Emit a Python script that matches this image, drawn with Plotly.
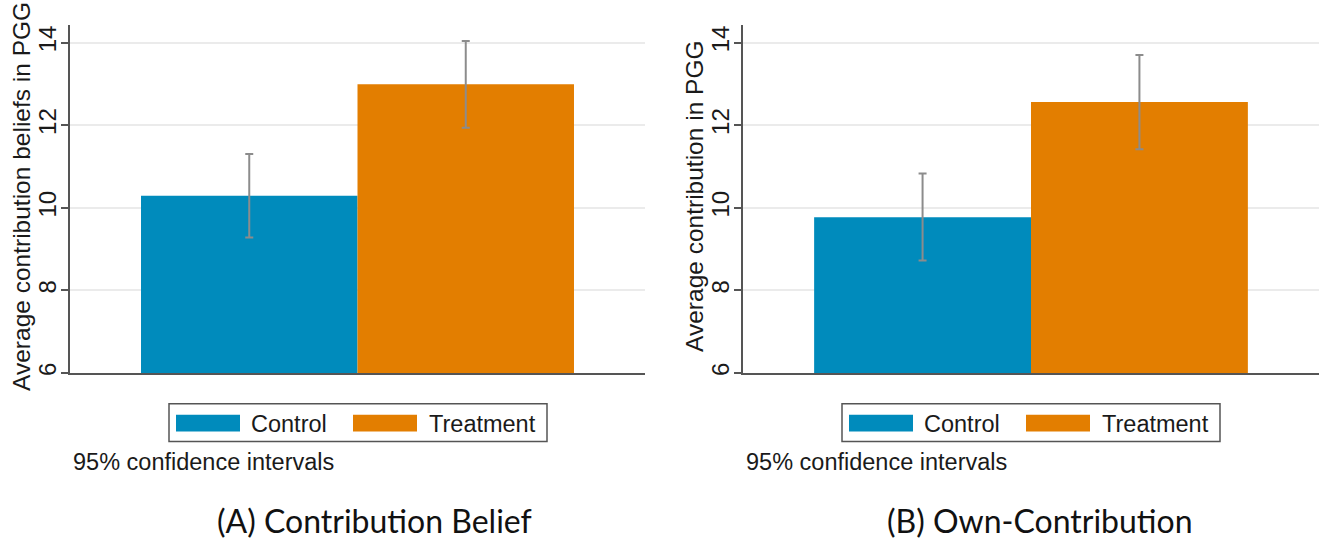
import plotly.graph_objects as go

W, H = 1324, 542

# ---- data -------------------------------------------------------------
groups = ["Control", "Treatment"]
colors = ["#008bbc", "#e37e00"]

belief_mean = [10.29, 12.99]
belief_lo = [9.28, 11.94]
belief_hi = [11.30, 14.04]

own_mean = [9.77, 12.56]
own_lo = [8.72, 11.42]
own_hi = [10.83, 13.70]

y_ticks = [6, 8, 10, 12, 14]
y_titles = ["Average contribution beliefs in PGG", "Average contribution in PGG"]
captions = ["(A) Contribution Belief", "(B) Own-Contribution"]
note_text = "95% confidence intervals"

panels = [
    dict(mean=belief_mean, lo=belief_lo, hi=belief_hi),
    dict(mean=own_mean, lo=own_lo, hi=own_hi),
]

# ---- layout helpers (pixel -> paper) ---------------------------------
def px(x):
    return x / W


def py(y):
    return 1 - y / H


AX_FONT = "Liberation Sans, Arial, sans-serif"
axis_left = [70, 743]
axis_right = [645, 1319]
plot_top, plot_bottom = 25, 375

fig = go.Figure()
shapes = []
annotations = []

for i, p in enumerate(panels):
    xa = "x" if i == 0 else "x2"
    ya = "y" if i == 0 else "y2"
    for j, g in enumerate(groups):
        fig.add_trace(go.Bar(
            x=[j + 1],
            y=[p["mean"][j]],
            width=1,
            base=0,
            marker=dict(color=colors[j], line=dict(width=0)),
            error_y=dict(
                type="data",
                symmetric=False,
                array=[p["hi"][j] - p["mean"][j]],
                arrayminus=[p["mean"][j] - p["lo"][j]],
                color="#8c8c8c",
                thickness=2,
                width=4,
            ),
            name=g,
            showlegend=False,
            xaxis=xa,
            yaxis=ya,
        ))

common_y = dict(
    range=[6, 14.43],
    tickvals=y_ticks,
    ticks="outside",
    ticklen=7,
    tickwidth=1.5,
    tickcolor="#555555",
    tickangle=-90,
    ticklabelstandoff=-4,
    tickfont=dict(family=AX_FONT, size=24, color="#1a1a1a"),
    showline=True,
    linecolor="#555555",
    linewidth=1.5,
    showgrid=True,
    gridcolor="#ebebeb",
    gridwidth=1.5,
    zeroline=False,
    domain=[py(plot_bottom), py(plot_top)],
)
common_x = dict(
    range=[0.172, 2.828],
    showticklabels=False,
    ticks="",
    showgrid=False,
    zeroline=False,
    showline=True,
    linecolor="#555555",
    linewidth=1.5,
)

fig.update_layout(
    xaxis=dict(common_x, domain=[px(axis_left[0]), px(axis_right[0])], anchor="y"),
    xaxis2=dict(common_x, domain=[px(axis_left[1]), px(axis_right[1])], anchor="y2"),
    yaxis=dict(common_y, anchor="x"),
    yaxis2=dict(common_y, anchor="x2"),
)

# ---- axis titles, legends, notes and captions -------------------------
title_font = dict(family=AX_FONT, size=24.5, color="#1a1a1a")
for i in range(2):
    dx = axis_left[i] - axis_left[0]
    annotations.append(dict(text=y_titles[i], xref="paper", yref="paper",
                            x=px(22 + dx), y=py(198), xanchor="center",
                            yanchor="middle", textangle=-90, showarrow=False,
                            font=title_font))
    # legend frame
    shapes.append(dict(type="rect", xref="paper", yref="paper",
                       x0=px(169 + dx), x1=px(547 + dx), y0=py(444), y1=py(406),
                       line=dict(color="#555555", width=1.5), fillcolor="white"))
    sw_x = [176, 353]
    txt_x = [249, 427]
    for j, g in enumerate(groups):
        shapes.append(dict(type="rect", xref="paper", yref="paper",
                           x0=px(sw_x[j] + dx), x1=px(sw_x[j] + 64 + dx),
                           y0=py(434), y1=py(417),
                           line=dict(width=0), fillcolor=colors[j]))
        annotations.append(dict(text=g, xref="paper", yref="paper",
                                x=px(txt_x[j] + dx), y=py(426), xanchor="left",
                                yanchor="middle", showarrow=False,
                                font=dict(family=AX_FONT, size=23.5, color="#1a1a1a")))
    annotations.append(dict(text=note_text, xref="paper", yref="paper",
                            x=px(71 + dx), y=py(465), xanchor="left", yanchor="middle",
                            showarrow=False,
                            font=dict(family=AX_FONT, size=23.5, color="#1a1a1a")))

caption_x = [374, 1040]
for i in range(2):
    annotations.append(dict(text=captions[i], xref="paper", yref="paper",
                            x=px(caption_x[i]), y=py(523), xanchor="center",
                            yanchor="middle", showarrow=False,
                            font=dict(family="Lato, Carlito, sans-serif", size=32,
                                      color="#111111")))

fig.update_layout(
    width=W, height=H, autosize=False,
    margin=dict(l=0, r=0, t=0, b=0),
    paper_bgcolor="white",
    plot_bgcolor="white",
    barmode="overlay",
    shapes=shapes,
    annotations=annotations,
    showlegend=False,
)

fig.write_html("out.html", config={"displayModeBar": False})
